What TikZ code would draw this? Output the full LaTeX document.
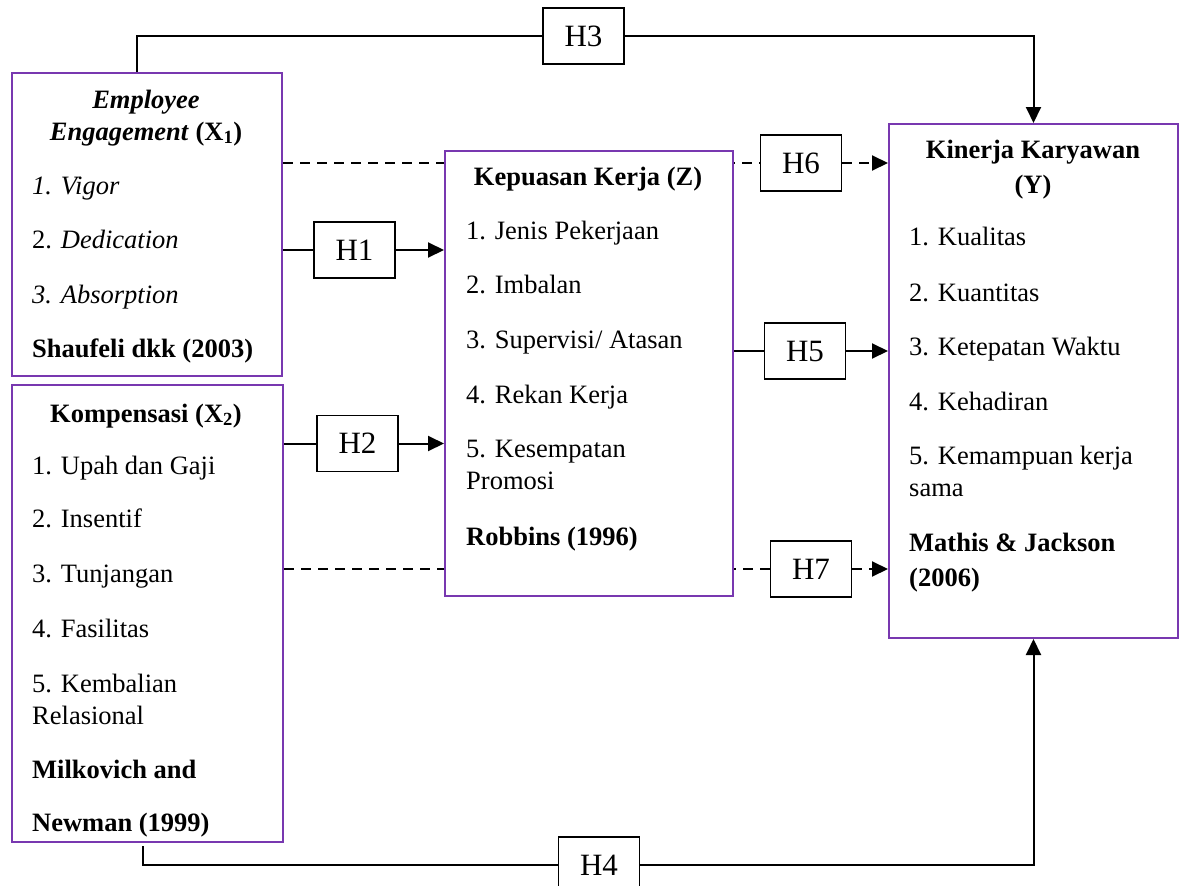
\documentclass[tikz,border=0pt]{standalone}
\usepackage{fontspec}
\setmainfont{Liberation Serif}
\usetikzlibrary{arrows.meta,backgrounds}
\definecolor{boxpurple}{RGB}{120,56,176}
\newcommand{\myBody}{\fontsize{26.5}{32}\selectfont}
\newcommand{\myH}{\fontsize{31}{36}\selectfont}
\tikzset{
  varbox/.style={draw=boxpurple, line width=2pt, fill=white, inner sep=0pt, anchor=north west},
  hbox/.style={draw, line width=1.8pt, fill=white, minimum width=81pt, minimum height=56pt, inner sep=0pt, font=\myH},
  txt/.style={anchor=base west, inner sep=0pt, font=\myBody},
  ttl/.style={anchor=base, inner sep=0pt, font=\myBody\bfseries},
  conn/.style={line width=2pt},
  tip/.style={-{Triangle[length=16pt,width=15pt]}},
  arr/.style={conn, tip},
  dsh/.style={conn, dash pattern=on 10pt off 7pt},
}
\begin{document}
\begin{tikzpicture}[x=1pt,y=-1pt]
\useasboundingbox (0,0) rectangle (1179,886);

% variable boxes
\node[varbox, minimum width=270pt, minimum height=303pt] (X1) at (11,72) {};
\node[varbox, minimum width=271pt, minimum height=457pt] (X2) at (11,384) {};
\node[varbox, minimum width=288pt, minimum height=445pt] (Z) at (444,150) {};
\node[varbox, minimum width=289pt, minimum height=514pt] (Y) at (888,123) {};

% hypothesis boxes
\node[hbox] (H3) at (583.5,36) {H3};
\node[hbox] (H1) at (354.5,250) {H1};
\node[hbox] (H2) at (357.5,443.5) {H2};
\node[hbox] (H6) at (801,163) {H6};
\node[hbox] (H5) at (805,351) {H5};
\node[hbox] (H7) at (811,569) {H7};
\node[hbox] (H4) at (599,865) {H4};

% X1 text
\node[ttl] (x1a) at (146,108) {\textit{Employee}};
\node[ttl] (x1b) at (146,140) {\textit{Engagement} (X\textsubscript{1})};
\node[txt] (x1c) at (32,194) {\textit{1. Vigor}};
\node[txt] (x1d) at (32,248) {2. \textit{Dedication}};
\node[txt] (x1e) at (32,303) {\textit{3. Absorption}};
\node[txt,font=\myBody\bfseries] (x1f) at (32,357) {Shaufeli dkk (2003)};

% X2 text
\node[ttl] (x2a) at (146,422) {Kompensasi (X\textsubscript{2})};
\node[txt] (x2b) at (32,474) {1. Upah dan Gaji};
\node[txt] (x2c) at (32,527) {2. Insentif};
\node[txt] (x2d) at (32,582) {3. Tunjangan};
\node[txt] (x2e) at (32,637) {4. Fasilitas};
\node[txt] (x2f) at (32,692) {5. Kembalian};
\node[txt] (x2g) at (32,724) {Relasional};
\node[txt,font=\myBody\bfseries] (x2h) at (32,778) {Milkovich and};
\node[txt,font=\myBody\bfseries] (x2i) at (32,831) {Newman (1999)};

% Z text
\node[ttl] (za) at (588,185) {Kepuasan Kerja (Z)};
\node[txt] (zb) at (466,239) {1. Jenis Pekerjaan};
\node[txt] (zc) at (466,293) {2. Imbalan};
\node[txt] (zd) at (466,348) {3. Supervisi/ Atasan};
\node[txt] (ze) at (466,403) {4. Rekan Kerja};
\node[txt] (zf) at (466,457) {5. Kesempatan};
\node[txt] (zg) at (466,489) {Promosi};
\node[txt,font=\myBody\bfseries] (zh) at (466,545) {Robbins (1996)};

% Y text
\node[ttl] (ya) at (1033,158) {Kinerja Karyawan};
\node[ttl] (yb) at (1033,193) {(Y)};
\node[txt] (yc) at (909,245) {1. Kualitas};
\node[txt] (yd) at (909,301) {2. Kuantitas};
\node[txt] (ye) at (909,355) {3. Ketepatan Waktu};
\node[txt] (yf) at (909,410) {4. Kehadiran};
\node[txt] (yg) at (909,464) {5. Kemampuan kerja};
\node[txt] (yh) at (909,496) {sama};
\node[txt,font=\myBody\bfseries] (yi) at (909,551) {Mathis \& Jackson};
\node[txt,font=\myBody\bfseries] (yj) at (909,586) {(2006)};

% free ends
\coordinate (h3s) at (137,72);
\coordinate (h4s) at (143,846);

\begin{scope}[on background layer]
  % H6 and H7 dashed lines pass behind Z
  \draw[dsh] (X1.east |- H6.west) -- (H6.west);
  \draw[dsh] (X2.east |- H7.west) -- (H7.west);
\end{scope}

% connectors
\draw[conn] (X1.east |- H1.west) -- (H1.west);
\draw[arr] (H1.east) -- (Z.west |- H1.east);
\draw[conn] (X2.east |- H2.west) -- (H2.west);
\draw[arr] (H2.east) -- (Z.west |- H2.east);
\draw[conn] (Z.east |- H5.west) -- (H5.west);
\draw[arr] (H5.east) -- (Y.west |- H5.east);
\draw[dsh, tip] (H6.east) -- (Y.west |- H6.east);
\draw[dsh, tip] (H7.east) -- (Y.west |- H7.east);
\draw[conn] (h3s) |- (H3.west);
\draw[arr] (H3.east) -| (Y.north);
\draw[conn] (h4s) |- (H4.west);
\draw[arr] (H4.east) -| (Y.south);
\end{tikzpicture}
\end{document}
